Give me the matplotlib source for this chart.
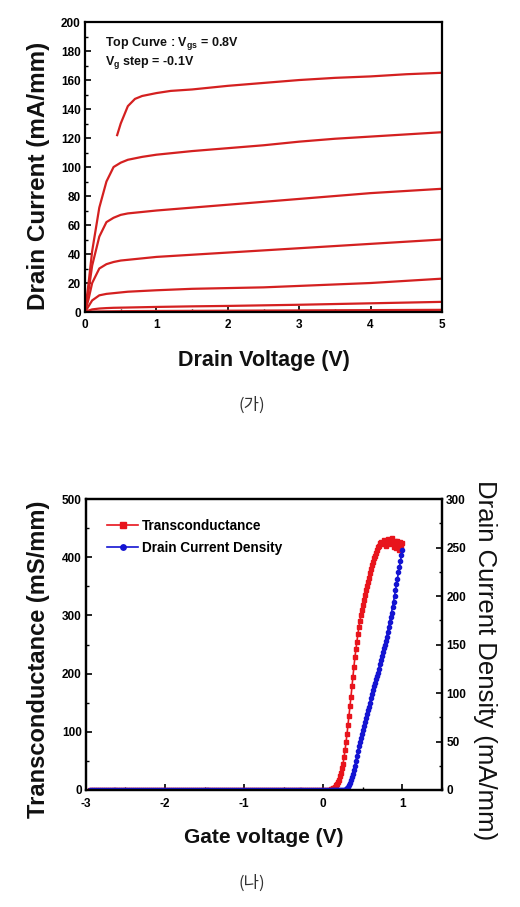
import numpy as np
import matplotlib
matplotlib.use("Agg")
import matplotlib.pyplot as plt
from matplotlib.ticker import MultipleLocator

plt.rcParams["font.family"] = ["Liberation Sans", "DejaVu Sans"]
plt.rcParams["mathtext.default"] = "regular"
plt.rcParams["axes.unicode_minus"] = False

# -----------------------
# DATOS
# -----------------------
# (가) curvas Id-Vd, Vgs = 0.8 V hasta 0.2 V en pasos de -0.1 V
vd_top = [0.45, 0.5, 0.6, 0.7, 0.8, 1.0, 1.2, 1.5, 2.0, 2.5, 3.0, 3.5, 4.0, 4.5, 5.0]
id_top = [122, 130, 142, 147, 149, 151, 152.5, 153.5, 156, 158, 160, 161.5, 162.5, 164, 165]

vd = [0.0, 0.05, 0.1, 0.2, 0.3, 0.4, 0.5, 0.6, 0.8, 1.0, 1.5, 2.0, 2.5, 3.0, 3.5, 4.0, 4.5, 5.0]
id_curves = [
    [0, 20, 42, 72, 90, 100, 103, 105, 107, 108.5, 111, 113, 115, 117.5, 119.5, 121, 122.5, 124],
    [0, 15, 32, 52, 62, 65, 67, 68, 69, 70, 72, 74, 76, 78, 80, 82, 83.5, 85],
    [0, 9, 20, 30, 33, 34.5, 35.5, 36, 37, 38, 39.5, 41, 42.5, 44, 45.5, 47, 48.5, 50],
    [0, 4, 8, 11.5, 12.5, 13, 13.5, 14, 14.5, 15, 16, 16.5, 17, 18, 19, 20, 21.5, 23],
    [0, 1, 1.8, 2.4, 2.7, 2.9, 3.0, 3.1, 3.3, 3.5, 3.9, 4.2, 4.6, 5.0, 5.5, 6.0, 6.5, 7.0],
    [0, 0.2, 0.3, 0.4, 0.45, 0.5, 0.55, 0.6, 0.65, 0.7, 0.8, 0.9, 1.0, 1.1, 1.2, 1.3, 1.4, 1.5],
]

# (나) transconductancia y densidad de corriente vs Vg
# barrido: -2.95..0.1 V cada 0.025 V (todo en cero), luego 0.1..1.0 V cada 0.0125 V
gm_rise = [1, 2, 3, 4, 6, 8, 10, 14, 18, 24,
           30, 37, 45, 56, 68, 82, 96, 112, 128, 144,
           160, 178, 195, 212, 228, 242, 255, 268, 280, 290,
           300, 309, 318, 327, 335, 343, 350, 358, 365, 373,
           380, 386, 392, 398, 402, 408, 412, 417, 420, 424,
           426, 422, 424, 430, 427, 420, 428, 432, 426, 422,
           430, 433, 425, 418, 428, 424, 415, 428, 420, 412,
           426, 418, 424]
id_rise = [0, 0, 0, 0, 0, 0, 0, 0, 0, 0, 0, 0, 0, 0,
           0.3, 1, 2, 3.5, 5, 7.5, 10, 13.5, 17, 21,
           25, 30, 35, 40, 45, 50, 54, 58, 62, 66,
           70, 74, 78, 82, 86, 90, 95, 99, 103, 107,
           110, 114, 118, 121, 125, 130, 134, 138, 142, 146,
           150, 154, 158, 163, 168, 173, 178, 183, 189, 194,
           200, 206, 212, 218, 225, 230, 236, 242, 247]

vg_flat = np.round(np.arange(-2.95, 0.0999, 0.025), 4)
vg_rise = np.round(0.1 + 0.0125 * np.arange(len(gm_rise)), 4)
vg = np.concatenate([vg_flat, vg_rise])
gm = [0] * len(vg_flat) + gm_rise
id_dens = [0] * len(vg_flat) + id_rise

# -----------------------
# GRÁFICOS
# -----------------------
RED = "#d42020"
GM_RED = "#e8141c"
BLUE = "#1414d2"
TXT = "#111111"

fig = plt.figure(figsize=(5.2, 9.07), dpi=100)

# (가)
ax1 = fig.add_axes([0.1635, 0.656, 0.6865, 0.3197])
ax1.plot(vd_top, id_top, color=RED, lw=1.6)
for curva in id_curves:
    ax1.plot(vd, curva, color=RED, lw=1.6)
ax1.set_xlim(0, 5)
ax1.set_ylim(0, 200)
ax1.xaxis.set_major_locator(MultipleLocator(1))
ax1.xaxis.set_minor_locator(MultipleLocator(0.5))
ax1.yaxis.set_major_locator(MultipleLocator(20))
ax1.yaxis.set_minor_locator(MultipleLocator(10))
ax1.tick_params(which="both", direction="in", top=False, right=False)
ax1.tick_params(which="major", length=4, width=1.2, labelsize=8.5, pad=3)
ax1.tick_params(axis="x", pad=5)
ax1.tick_params(which="minor", length=2.5, width=1)
for lab in ax1.get_xticklabels() + ax1.get_yticklabels():
    lab.set_fontweight("bold")
for s in ax1.spines.values():
    s.set_linewidth(1.6)
ax1.set_xlabel("Drain Voltage (V)", fontsize=15.5, fontweight="bold", color=TXT, labelpad=14)
ax1.set_ylabel("Drain Current (mA/mm)", fontsize=17.5, fontweight="bold", color=TXT)
ax1.yaxis.set_label_coords(-0.098, 0.47)
ax1.text(0.055, 0.925, "Top Curve : V$_{gs}$ = 0.8V", transform=ax1.transAxes,
         fontsize=9, fontweight="bold", color=TXT, va="center")
ax1.text(0.055, 0.86, "V$_{g}$ step = -0.1V", transform=ax1.transAxes,
         fontsize=9, fontweight="bold", color=TXT, va="center")

fig.text(0.485, 1 - 405 / 907, "(가)", fontsize=12, ha="center", va="center",
         family=["Noto Sans CJK KR", "DejaVu Sans"], color="#333333")

# (나)
ax2 = fig.add_axes([0.165, 0.129, 0.685, 0.3208])
ax3 = ax2.twinx()
l1, = ax2.plot(vg, gm, color=GM_RED, lw=1.2, marker="s", ms=3, mec=GM_RED, mfc=GM_RED,
               label="Transconductance")
l2, = ax3.plot(vg, id_dens, color=BLUE, lw=1.2, marker="o", ms=3, mec=BLUE, mfc=BLUE,
               label="Drain Current Density")
ax2.set_xlim(-3, 1.5)
ax2.set_ylim(0, 500)
ax3.set_ylim(0, 300)
ax2.set_xticks([-3, -2, -1, 0, 1])
ax2.xaxis.set_minor_locator(MultipleLocator(0.5))
ax2.yaxis.set_major_locator(MultipleLocator(100))
ax2.yaxis.set_minor_locator(MultipleLocator(50))
ax3.yaxis.set_major_locator(MultipleLocator(50))
ax3.yaxis.set_minor_locator(MultipleLocator(25))
for a in (ax2, ax3):
    a.tick_params(which="both", direction="in")
    a.tick_params(which="major", length=4, width=1.2, labelsize=8.5, pad=3)
    a.tick_params(which="minor", length=2.5, width=1)
    for lab in a.get_xticklabels() + a.get_yticklabels():
        lab.set_fontweight("bold")
    for s in a.spines.values():
        s.set_linewidth(1.6)
ax2.tick_params(top=False)
ax2.tick_params(axis="x", pad=6)
ax2.set_xlabel("Gate voltage (V)", fontsize=15, fontweight="bold", color=TXT, labelpad=13)
ax2.set_ylabel("Transconductance (mS/mm)", fontsize=17, fontweight="bold", color=TXT)
ax2.yaxis.set_label_coords(-0.1, 0.45)
ax3.set_ylabel("Drain Current Density (mA/mm)", fontsize=18.5, color=TXT, rotation=270)
ax3.yaxis.set_label_coords(1.155, 0.447)
leg = ax2.legend(handles=[l1, l2], loc="upper left", bbox_to_anchor=(0.025, 0.975),
                 frameon=False, fontsize=9.8, handlelength=2.3, handletextpad=0.3,
                 labelspacing=0.6, markerscale=1.3)
for t in leg.get_texts():
    t.set_fontweight("bold")

fig.text(0.485, 1 - 883 / 907, "(나)", fontsize=12, ha="center", va="center",
         family=["Noto Sans CJK KR", "DejaVu Sans"], color="#333333")

plt.savefig("out.png", dpi=100)
